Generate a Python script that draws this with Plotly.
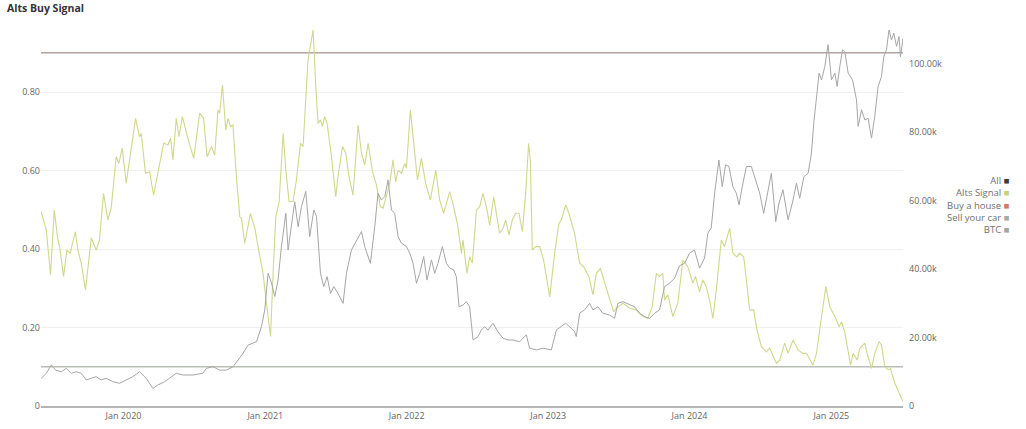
import plotly.graph_objects as go
import pandas as pd

# ---- data (decimal years) ----
alts_t = [2019.418, 2019.454, 2019.484, 2019.510, 2019.536, 2019.548, 2019.576, 2019.599, 2019.623, 2019.659,
          2019.677, 2019.701, 2019.731, 2019.772, 2019.807, 2019.830, 2019.859, 2019.889, 2019.913, 2019.948,
          2019.967, 2019.991, 2020.019, 2020.047, 2020.085, 2020.113, 2020.125, 2020.155, 2020.184, 2020.212,
          2020.242, 2020.283, 2020.313, 2020.332, 2020.348, 2020.372, 2020.391, 2020.415, 2020.454, 2020.495,
          2020.537, 2020.565, 2020.589, 2020.620, 2020.643, 2020.666, 2020.678, 2020.698, 2020.721, 2020.737,
          2020.754, 2020.772, 2020.796, 2020.820, 2020.832, 2020.855, 2020.895, 2020.926, 2020.949, 2020.984,
          2021.008, 2021.037, 2021.055, 2021.074, 2021.098, 2021.126, 2021.145, 2021.168, 2021.196, 2021.220,
          2021.249, 2021.267, 2021.302, 2021.338, 2021.357, 2021.373, 2021.390, 2021.404, 2021.420, 2021.437,
          2021.468, 2021.498, 2021.514, 2021.546, 2021.569, 2021.592, 2021.620, 2021.656, 2021.680, 2021.703,
          2021.727, 2021.758, 2021.786, 2021.814, 2021.833, 2021.857, 2021.880, 2021.903, 2021.922, 2021.939,
          2021.963, 2021.986, 2021.998, 2022.026, 2022.049, 2022.076, 2022.104, 2022.134, 2022.167, 2022.205,
          2022.233, 2022.261, 2022.304, 2022.332, 2022.362, 2022.387, 2022.398, 2022.426, 2022.445, 2022.464,
          2022.493, 2022.516, 2022.539, 2022.563, 2022.587, 2022.615, 2022.634, 2022.657, 2022.681, 2022.700,
          2022.723, 2022.747, 2022.770, 2022.794, 2022.818, 2022.841, 2022.862, 2022.874, 2022.888, 2022.912,
          2022.940, 2022.968, 2023.011, 2023.046, 2023.076, 2023.093, 2023.124, 2023.147, 2023.187, 2023.223,
          2023.251, 2023.288, 2023.317, 2023.341, 2023.369, 2023.392, 2023.423, 2023.463, 2023.482, 2023.529,
          2023.576, 2023.623, 2023.659, 2023.705, 2023.736, 2023.765, 2023.788, 2023.811, 2023.823, 2023.847,
          2023.882, 2023.917, 2023.953, 2023.988, 2024.023, 2024.042, 2024.071, 2024.094, 2024.118, 2024.141,
          2024.165, 2024.189, 2024.224, 2024.247, 2024.283, 2024.306, 2024.334, 2024.353, 2024.382, 2024.401,
          2024.424, 2024.452, 2024.476, 2024.507, 2024.542, 2024.565, 2024.613, 2024.636, 2024.671, 2024.695,
          2024.730, 2024.765, 2024.801, 2024.825, 2024.871, 2024.895, 2024.919, 2024.961, 2024.989, 2025.025,
          2025.055, 2025.072, 2025.095, 2025.119, 2025.136, 2025.154, 2025.183, 2025.201, 2025.237, 2025.253,
          2025.284, 2025.307, 2025.338, 2025.355, 2025.378, 2025.402, 2025.418, 2025.449, 2025.484, 2025.507]
alts_v = [0.495, 0.448, 0.334, 0.499, 0.423, 0.406, 0.330, 0.397, 0.389, 0.444,
          0.397, 0.364, 0.296, 0.428, 0.397, 0.423, 0.542, 0.474, 0.504, 0.635,
          0.618, 0.657, 0.568, 0.635, 0.733, 0.686, 0.695, 0.593, 0.597, 0.537,
          0.593, 0.670, 0.665, 0.682, 0.627, 0.733, 0.686, 0.737, 0.682, 0.631,
          0.746, 0.733, 0.635, 0.661, 0.639, 0.754, 0.746, 0.818, 0.703, 0.733,
          0.712, 0.716, 0.584, 0.482, 0.478, 0.414, 0.491, 0.453, 0.406, 0.338,
          0.262, 0.177, 0.338, 0.482, 0.521, 0.695, 0.601, 0.521, 0.521, 0.576,
          0.669, 0.661, 0.882, 0.958, 0.814, 0.720, 0.729, 0.712, 0.737, 0.720,
          0.635, 0.533, 0.584, 0.661, 0.644, 0.584, 0.537, 0.716, 0.644, 0.614,
          0.669, 0.597, 0.563, 0.508, 0.504, 0.533, 0.567, 0.627, 0.571, 0.601,
          0.593, 0.618, 0.606, 0.754, 0.678, 0.576, 0.631, 0.567, 0.525, 0.601,
          0.525, 0.491, 0.546, 0.508, 0.457, 0.389, 0.423, 0.338, 0.380, 0.364,
          0.499, 0.508, 0.542, 0.508, 0.461, 0.533, 0.491, 0.440, 0.453, 0.474,
          0.436, 0.474, 0.491, 0.491, 0.444, 0.542, 0.669, 0.627, 0.397, 0.406,
          0.406, 0.372, 0.278, 0.389, 0.465, 0.474, 0.512, 0.491, 0.440, 0.364,
          0.355, 0.330, 0.283, 0.338, 0.351, 0.321, 0.287, 0.240, 0.249, 0.262,
          0.249, 0.245, 0.232, 0.223, 0.253, 0.338, 0.330, 0.338, 0.270, 0.283,
          0.228, 0.262, 0.372, 0.355, 0.313, 0.330, 0.291, 0.321, 0.304, 0.270,
          0.223, 0.296, 0.423, 0.406, 0.453, 0.389, 0.380, 0.389, 0.380, 0.321,
          0.245, 0.245, 0.194, 0.151, 0.138, 0.147, 0.109, 0.117, 0.160, 0.134,
          0.168, 0.143, 0.134, 0.134, 0.104, 0.134, 0.194, 0.304, 0.253, 0.228,
          0.202, 0.215, 0.189, 0.134, 0.104, 0.134, 0.117, 0.147, 0.160, 0.134,
          0.096, 0.134, 0.164, 0.155, 0.100, 0.092, 0.096, 0.058, 0.028, 0.011]

btc_t = [2019.418, 2019.454, 2019.489, 2019.519, 2019.560, 2019.595, 2019.630, 2019.666, 2019.701, 2019.736,
         2019.772, 2019.807, 2019.842, 2019.878, 2019.924, 2019.972, 2020.019, 2020.066, 2020.113, 2020.160,
         2020.207, 2020.242, 2020.290, 2020.337, 2020.372, 2020.419, 2020.490, 2020.560, 2020.584, 2020.631,
         2020.678, 2020.726, 2020.772, 2020.808, 2020.843, 2020.878, 2020.914, 2020.938, 2020.973, 2020.996,
         2021.020, 2021.044, 2021.067, 2021.090, 2021.114, 2021.145, 2021.161, 2021.185, 2021.208, 2021.232,
         2021.256, 2021.286, 2021.314, 2021.343, 2021.362, 2021.390, 2021.413, 2021.437, 2021.461, 2021.484,
         2021.514, 2021.550, 2021.574, 2021.609, 2021.645, 2021.680, 2021.703, 2021.743, 2021.774, 2021.797,
         2021.821, 2021.845, 2021.868, 2021.892, 2021.915, 2021.939, 2021.963, 2021.998, 2022.021, 2022.045,
         2022.069, 2022.092, 2022.120, 2022.143, 2022.175, 2022.198, 2022.221, 2022.252, 2022.281, 2022.304,
         2022.332, 2022.351, 2022.370, 2022.398, 2022.422, 2022.445, 2022.469, 2022.504, 2022.528, 2022.551,
         2022.575, 2022.610, 2022.645, 2022.681, 2022.716, 2022.751, 2022.799, 2022.846, 2022.869, 2022.917,
         2022.963, 2023.023, 2023.058, 2023.093, 2023.124, 2023.152, 2023.187, 2023.199, 2023.223, 2023.258,
         2023.293, 2023.317, 2023.352, 2023.387, 2023.435, 2023.470, 2023.493, 2023.529, 2023.576, 2023.611,
         2023.647, 2023.682, 2023.717, 2023.753, 2023.788, 2023.823, 2023.859, 2023.894, 2023.929, 2023.965,
         2024.000, 2024.035, 2024.071, 2024.106, 2024.129, 2024.153, 2024.177, 2024.207, 2024.231, 2024.254,
         2024.278, 2024.306, 2024.330, 2024.349, 2024.372, 2024.401, 2024.436, 2024.466, 2024.495, 2024.523,
         2024.546, 2024.577, 2024.608, 2024.631, 2024.659, 2024.695, 2024.730, 2024.754, 2024.777, 2024.806,
         2024.836, 2024.860, 2024.876, 2024.895, 2024.914, 2024.931, 2024.954, 2024.977, 2025.001, 2025.025,
         2025.041, 2025.060, 2025.079, 2025.095, 2025.119, 2025.150, 2025.178, 2025.190, 2025.214, 2025.237,
         2025.260, 2025.284, 2025.307, 2025.331, 2025.355, 2025.371, 2025.390, 2025.408, 2025.425, 2025.442,
         2025.461, 2025.479, 2025.489, 2025.507]
btc_v = [8100, 9560, 12000, 10500, 10000, 11000, 9560, 10030, 9560, 7600,
         8100, 8570, 7600, 8100, 7100, 6640, 7600, 8570, 10030, 8100,
         5170, 6140, 7100, 8570, 9560, 9060, 9060, 9560, 11000, 11500,
         10500, 10500, 11500, 13450, 15400, 17800, 18300, 18800, 23200, 28100,
         38800, 35900, 32000, 36800, 46600, 56300, 45600, 52400, 59700, 52400,
         58300, 62700, 49500, 57300, 55400, 38800, 34900, 37800, 32900, 34900,
         32900, 30000, 38800, 45600, 48500, 51000, 46600, 41700, 52400, 62200,
         60200, 61200, 66100, 57300, 56300, 49500, 47600, 46600, 44700, 41700,
         35900, 38800, 43700, 36800, 42700, 38800, 41700, 46600, 41700, 40300,
         39800, 37800, 29000, 29500, 30500, 29000, 19300, 20300, 22200, 23200,
         22200, 24200, 21700, 19800, 19300, 19300, 18800, 20800, 16900, 16400,
         16900, 16400, 22200, 23200, 24200, 23200, 21700, 20300, 27100, 28100,
         30000, 28100, 29000, 27100, 26600, 25600, 30000, 30500, 29500, 29000,
         27100, 26100, 25600, 27100, 28100, 34900, 35900, 37300, 41000, 41700,
         44700, 45600, 40300, 43200, 50500, 52000, 62200, 71900, 64100, 70500,
         70000, 64100, 62200, 58800, 64100, 70000, 70000, 66100, 62200, 56300,
         61200, 68000, 53900, 59300, 63200, 54400, 60200, 65100, 60700, 67000,
         68000, 73900, 82700, 90400, 97300, 95300, 99200, 105600, 95300, 97300,
         93400, 99200, 104100, 103600, 97300, 95300, 89500, 81700, 86600, 83600,
         84100, 78300, 84600, 93400, 96300, 102100, 104100, 110000, 107000, 109000,
         105100, 108000, 102100, 107500]

buy_level = 0.9
sell_level = 0.1
left_ticks = [0, 0.2, 0.4, 0.6, 0.8]
left_labels = ["0", "0.20", "0.40", "0.60", "0.80"]
right_ticks = [0, 20000, 40000, 60000, 80000, 100000]
right_labels = ["0", "20.00k", "40.00k", "60.00k", "80.00k", "100.00k"]
x_ticks = ["2020-01-01", "2021-01-01", "2022-01-01", "2023-01-01", "2024-01-01", "2025-01-01"]
x_labels = ["Jan 2020", "Jan 2021", "Jan 2022", "Jan 2023", "Jan 2024", "Jan 2025"]
legend_names = ["All", "Alts Signal", "Buy a house", "Sell your car", "BTC"]
legend_colors = ["#3a3a3a", "#c9d46e", "#d9785f", "#a9a9a9", "#a3a3a3"]


def to_dates(ts):
    out = []
    for t in ts:
        y = int(t)
        start = pd.Timestamp(year=y, month=1, day=1)
        end = pd.Timestamp(year=y + 1, month=1, day=1)
        out.append(start + (end - start) * (t - y))
    return out


alts_d = to_dates(alts_t)
btc_d = to_dates(btc_t)
x0, x1 = pd.Timestamp("2019-06-02"), pd.Timestamp("2025-07-05")

fig = go.Figure()
fig.add_trace(go.Scatter(x=[x0, x1], y=[buy_level, buy_level], mode="lines",
                         line=dict(color="#b3a3a3", width=1.6), name="Buy a house",
                         showlegend=False, yaxis="y"))
fig.add_trace(go.Scatter(x=[x0, x1], y=[sell_level, sell_level], mode="lines",
                         line=dict(color="#b9beb3", width=1.4), name="Sell your car",
                         showlegend=False, yaxis="y"))
fig.add_trace(go.Scatter(x=btc_d, y=btc_v, mode="lines",
                         line=dict(color="#a6a6a6", width=1), name="BTC",
                         showlegend=False, yaxis="y2"))
fig.add_trace(go.Scatter(x=alts_d, y=alts_v, mode="lines",
                         line=dict(color="#d0d88c", width=1.1), name="Alts Signal",
                         showlegend=False, yaxis="y"))

legend_text = "<br>".join(
    f"{n} <span style='color:{c}'>■</span>" for n, c in zip(legend_names, legend_colors))

fig.update_layout(
    width=1026, height=429,
    margin=dict(l=41, r=123, t=30, b=23, autoexpand=False),
    paper_bgcolor="white", plot_bgcolor="white",
    font=dict(family="Open Sans, sans-serif", size=9, color="#666666"),
    showlegend=False,
    xaxis=dict(range=[x0, x1], tickvals=x_ticks, ticktext=x_labels, showgrid=False,
               showline=True, linecolor="#b5b5b5", linewidth=2, ticks="", zeroline=False,
               automargin=False, tickfont=dict(size=9, color="#666666")),
    yaxis=dict(range=[0, 0.958], tickvals=left_ticks, ticktext=left_labels,
               showgrid=True, gridcolor="#f0f0f0", gridwidth=1, zeroline=False,
               automargin=False, showline=False, ticks="",
               tickfont=dict(size=9, color="#666666")),
    yaxis2=dict(range=[0, 109900], tickvals=right_ticks, ticktext=right_labels,
                overlaying="y", side="right", showgrid=False, zeroline=False,
                automargin=False, showline=False, ticks="", ticklabelstandoff=5,
                tickfont=dict(size=9, color="#666666")),
    annotations=[
        dict(text="<b>Alts Buy Signal</b>", xref="paper", yref="paper",
             x=(5 - 41) / 862, y=(406 - 8) / 376, xanchor="left", yanchor="middle",
             showarrow=False, font=dict(size=10.5, color="#333333")),
        dict(text=legend_text, xref="paper", yref="paper",
             x=(1012 - 41) / 862, y=(406 - 205) / 376, xanchor="right",
             yanchor="middle", align="right", showarrow=False,
             font=dict(size=9.5, color="#707070"))],
)

fig.write_html("out.html", config={"displayModeBar": False},
               post_script="document.body.style.margin='0';document.body.style.overflow='hidden';")
